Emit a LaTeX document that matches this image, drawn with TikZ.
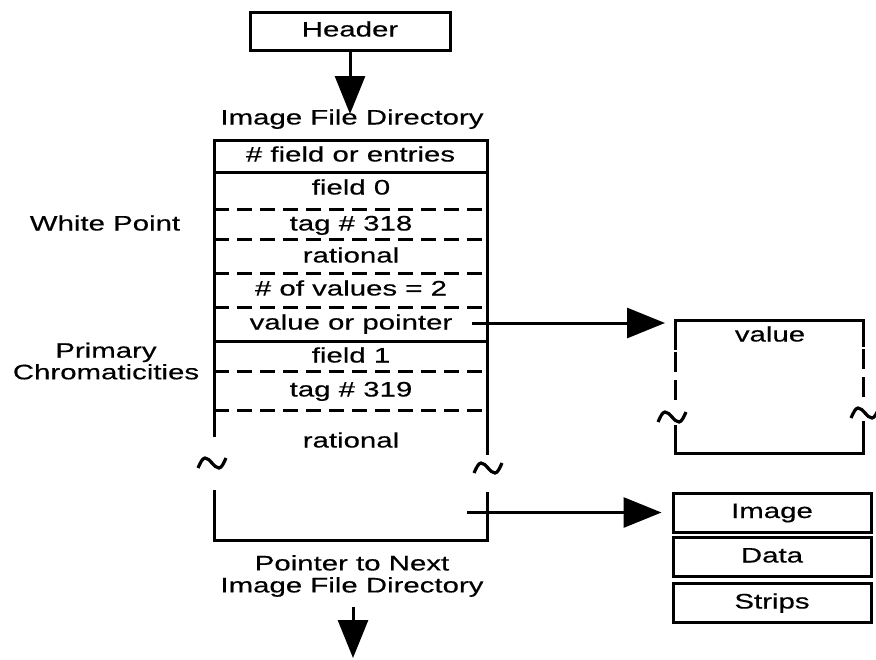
\documentclass[tikz,border=0pt]{standalone}
\usepackage{fontspec}
\setmainfont{Liberation Sans}[FakeStretch=1.4, FakeBold=0.4]
\usetikzlibrary{arrows.meta}

\begin{document}
\begin{tikzpicture}[x=0.5pt,y=-0.5pt,line width=1.5pt]
	\path [use as bounding box] (0,0) rectangle (876,659);
	\tikzstyle{every node} = [inner sep=0pt, font=\fontsize{10.5}{11}\selectfont]
	\tikzstyle{txt} = [text height=7.5pt, text depth=2pt]
	\tikzstyle{box} = [draw, txt, minimum width=99pt, minimum height=19.5pt]
	\tikzstyle{ptr} = [-{Triangle[length=19pt,width=15pt]}]
	\tikzstyle{dsh} = [dash pattern=on 7.5pt off 4pt]

	% header and directory
	\node[box, minimum width=100pt, minimum height=19pt] (hdr) at (350,31) {Header};
	\node[txt] (ifd) at (352,119) {Image File Directory};
	\coordinate (hdrtip) at (350,114);
	\draw[ptr] (hdr.south) -- (hdrtip);

	\node[box, minimum width=136.5pt, minimum height=16pt] (cnt) at (350.5,156) {\# field or entries};
	\draw (214,172) -- (214,437);
	\draw (487,172) -- (487,455);
	\draw (214,490) -- (214,540) -- (487,540) -- (487,492);
	\draw (214,341) -- (487,341);
	\foreach \y in {209,239,273,307,371,410}
		\draw[dsh] (214,\y) -- (487,\y);
	\foreach \y/\t/\n in {189/field 0/fz, 225/tag \# 318/tz, 257/rational/rz, 290/\# of values = 2/nz, 324/value or pointer/vp, 357/field 1/fo, 391/tag \# 319/to, 442/rational/ro}
		\node[txt] (\n) at (351,\y) {\t};

	% breaks
	\foreach \p in {(212,463),(488,468),(672,417),(865,413)}
		\draw[shift={\p}, line width=1.6pt] (-14,5) sin (-7,-5) cos (0,0) sin (7,5) cos (14,-5);

	% labels on the left
	\node[txt] (wp) at (105,225) {White Point};
	\node[align=center, font=\fontsize{10.5}{9}\selectfont] (pc) at (106,361) {Primary\\Chromaticities};

	% value
	\draw (675,350) -- (675,320) -- (863,320) -- (863,347);
	\draw[dash pattern=on 10pt off 4pt] (675,352) -- (675,403);
	\draw[dash pattern=on 10pt off 4pt] (863,349) -- (863,400);
	\draw (675,425) -- (675,453) -- (863,453) -- (863,421);
	\node[txt] (val) at (770,336) {value};
	\coordinate (vpout) at (472,323);
	\coordinate (valin) at (675,323);
	\draw[ptr, shorten >=5pt] (vpout) -- (valin);

	% strips
	\node[box] (img) at (772,512.5) {Image};
	\node[box] (dat) at (772,557) {Data};
	\node[box] (stp) at (772,603) {Strips};
	\coordinate (nxtout) at (467,512.5);
	\draw[ptr, shorten >=5pt] (nxtout) -- (img.west);

	% next directory
	\node[align=center] (pnx) at (352,576) {Pointer to Next\\Image File Directory};
	\coordinate (pnxout) at (353,607);
	\coordinate (pnxtip) at (353,658);
	\draw[ptr] (pnxout) -- (pnxtip);
\end{tikzpicture}
\end{document}
